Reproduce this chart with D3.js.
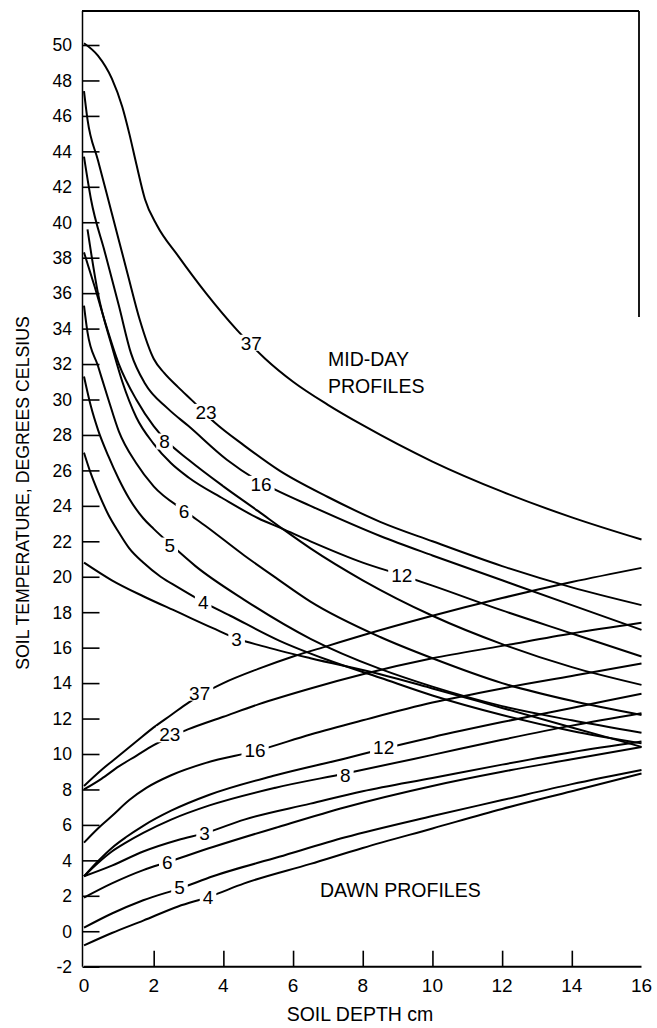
<!DOCTYPE html>
<html>
<head>
<meta charset="utf-8">
<script src="https://cdn.jsdelivr.net/npm/d3@7"></script>
<style>
  html, body { margin: 0; padding: 0; background: #fff; }
  svg { display: block; font-family: "Liberation Sans", Arial, Helvetica, sans-serif; }
</style>
</head>
<body>
<svg id="chart" width="657" height="1028"></svg>
<script>
// Soil temperature profiles: [depth cm, temperature °C]
// Mid-day profiles (temperature falls with depth)
const mid37 = [[0,50.1],[0.4,49.4],[0.8,48.1],[1.1,46.5],[1.3,45],[1.5,43.3],[1.75,41.3],[2.1,39.8],[2.7,38.1],[3.5,36],[4.4,33.9],[5.2,32.3],[6,31],[7,29.7],[8,28.55],[10,26.5],[12,24.8],[14,23.35],[16,22.1]];
const mid23 = [[0,47.4],[0.1,45.8],[0.4,43.5],[0.8,40.5],[1.25,37.1],[1.6,34.5],[2,32.3],[2.3,31.5],[2.7,30.7],[3.1,29.95],[3.75,28.7],[4.6,27.4],[5.6,26],[7,24.5],[8.5,23.1],[10,22],[12,20.6],[14,19.4],[16,18.4]];
const mid16 = [[0,43.7],[0.2,41.3],[0.6,38.3],[1,35.3],[1.35,32.6],[1.75,30.9],[2.4,29.5],[3,28.5],[4.1,26.6],[5.1,25.3],[5.5,24.9],[6.5,24],[8.5,22.3],[10,21.2],[12,19.8],[14,18.4],[16,17]];
const mid12 = [[0.1,39.6],[0.4,36],[0.8,33],[1.1,31],[1.5,29],[2,27.5],[2.5,26.4],[3,25.6],[4,24.4],[5,23.3],[5.7,22.7],[6.5,22],[8,20.8],[9.1,20.1],[10,19.5],[12,18.1],[14,16.8],[16,15.5]];
const mid8  = [[0,38.3],[0.3,36.4],[0.6,34.4],[1,32],[1.5,30],[2,28.5],[2.4,27.6],[3,26.6],[4,25.1],[5,23.7],[5.7,22.7],[6.5,21.6],[8,19.8],[10,17.8],[12,16.2],[14,14.9],[16,13.9]];
const mid6  = [[0,35.3],[0.1,33.8],[0.4,31.9],[0.7,30],[1,28.2],[1.5,26.4],[2,25.1],[2.9,23.7],[3.5,22.85],[4.6,21.2],[5.5,19.95],[6.5,18.6],[8.5,16.6],[10,15.4],[12,14],[14,13],[16,12.2]];
const mid5  = [[0,31.3],[0.2,29.6],[0.4,28.3],[0.7,26.8],[1,25.5],[1.3,24.4],[1.7,23.3],[2,22.7],[2.5,21.8],[3.2,20.6],[4.6,18.7],[6.5,16.5],[8.5,14.8],[10,13.8],[12,12.7],[14,11.9],[16,11.2]];
const mid4  = [[0,27],[0.2,25.8],[0.4,24.8],[0.7,23.5],[1,22.5],[1.3,21.6],[1.7,20.8],[2.2,20],[2.7,19.4],[3.4,18.6],[4.2,17.8],[5.6,16.4],[7,15.3],[8.5,14.3],[10,13.3],[12,12.2],[14,11.3],[16,10.6]];
const mid3  = [[0,20.8],[0.8,19.8],[1.7,18.9],[2.7,18],[3.7,17.1],[4.4,16.5],[5.1,16.1],[6.5,15.4],[8.5,14.5],[10,13.7],[12,12.6],[14,11.5],[16,10.4]];

// Dawn profiles (temperature rises with depth)
const dawn37 = [[0,8.2],[0.5,9.1],[1,9.9],[1.5,10.7],[2,11.5],[2.5,12.2],[3,12.9],[3.5,13.5],[4,14],[5,14.8],[6,15.5],[7,16.1],[8,16.7],[10,17.8],[12,18.8],[14,19.7],[16,20.5]];
const dawn23 = [[0,8],[0.5,8.6],[1,9.3],[1.5,9.9],[2,10.5],[2.5,11],[3,11.4],[4,12.1],[5,12.8],[6.5,13.7],[8,14.5],[10,15.4],[12,16.1],[14,16.8],[16,17.4]];
const dawn16 = [[0,5],[0.4,5.8],[0.8,6.5],[1.3,7.4],[1.8,8.1],[2.5,8.8],[3.5,9.5],[5,10.2],[6.5,11.1],[8,11.9],[10,12.9],[12,13.7],[14,14.4],[16,15.1]];
const dawn12 = [[0,3.1],[0.4,3.95],[0.8,4.7],[1.2,5.3],[1.7,5.95],[2.5,6.8],[3.6,7.7],[5.5,8.8],[7.5,9.75],[8.6,10.3],[10,10.95],[12,11.8],[14,12.6],[16,13.4]];
const dawn8  = [[0,3.1],[0.4,3.85],[0.8,4.5],[1.2,5],[1.7,5.55],[2.5,6.3],[3.6,7.1],[5.5,8.1],[7.5,8.9],[10,9.95],[12,10.8],[14,11.6],[16,12.3]];
const dawn3  = [[0,3.1],[0.8,3.7],[1.7,4.5],[2.7,5.15],[3.5,5.55],[4.6,6.3],[6.5,7.2],[8,7.9],[10,8.65],[12,9.4],[14,10.1],[16,10.7]];
const dawn6  = [[0,1.9],[0.8,2.7],[1.7,3.45],[2.4,3.9],[3.7,4.75],[5.6,5.9],[7.5,7],[10,8.2],[12,9],[14,9.7],[16,10.4]];
const dawn5  = [[0,0.2],[0.8,1],[1.7,1.75],[2.8,2.45],[3.7,3.1],[5.6,4.2],[7.5,5.3],[10,6.5],[12,7.4],[14,8.3],[16,9.1]];
const dawn4  = [[0,-0.8],[0.8,-0.1],[1.7,0.6],[2.7,1.4],[3.6,1.95],[4.6,2.7],[6.5,3.8],[8,4.7],[10,5.8],[12,6.9],[14,7.9],[16,8.9]];

// Profile names and where their tags sit along each curve (depth, temperature)
const profileNames = ["37","23","16","12","8","6","5","4","3",
                      "37","23","16","12","8","3","6","5","4"];
const profileData = [mid37, mid23, mid16, mid12, mid8, mid6, mid5, mid4, mid3,
                     dawn37, dawn23, dawn16, dawn12, dawn8, dawn3, dawn6, dawn5, dawn4];
const tagPositions = [[4.8,33.2],[3.5,29.3],[5.08,25.24],[9.12,20.1],[2.31,27.63],[2.87,23.68],[2.46,21.76],[3.42,18.54],[4.38,16.47],
                      [3.32,13.46],[2.46,11.11],[4.91,10.23],[8.6,10.41],[7.5,8.82],[3.46,5.56],[2.39,3.87],[2.74,2.46],[3.56,1.95]];

const yTicks = d3.range(-2, 51, 2);
const xTicks = d3.range(0, 17, 2);

const svg = d3.select("#chart");
const x = d3.scaleLinear().domain([0, 16]).range([84, 641.5]);
const y = d3.scaleLinear().domain([-2, 50]).range([966.7, 45]);

// Frame: top and partial right edge
svg.append("line").attr("x1", 82).attr("x2", 639).attr("y1", 11).attr("y2", 11)
  .attr("stroke", "#000").attr("stroke-width", 2);
svg.append("line").attr("x1", 639).attr("x2", 639).attr("y1", 11).attr("y2", 317)
  .attr("stroke", "#000").attr("stroke-width", 1.8);

// Left axis line
svg.append("line").attr("x1", x(0) - 1.5).attr("x2", x(0) - 1.5).attr("y1", 11).attr("y2", y(-2))
  .attr("stroke", "#000").attr("stroke-width", 1.5);

// Y axis: inward ticks with labels on the left
const yAxis = d3.axisRight(y).tickValues(yTicks).tickSize(17).tickFormat("");
const gy = svg.append("g").attr("transform", `translate(${x(0) - 1.5},0)`).call(yAxis);
gy.select(".domain").remove();
gy.selectAll(".tick line").attr("stroke", "#000").attr("stroke-width", 1.6);
svg.append("g").selectAll("text").data(yTicks).join("text")
  .attr("x", 72).attr("y", d => y(d)).attr("dy", "0.36em")
  .attr("text-anchor", "end").attr("font-size", 17.5).attr("fill", "#000")
  .text(d => d);

// X axis: upward ticks, labels underneath
const xAxis = d3.axisTop(x).tickValues(xTicks.filter(d => d > 0 && d < 16)).tickSize(16).tickFormat("");
const gx = svg.append("g").attr("transform", `translate(0,${y(-2)})`).call(xAxis);
gx.select(".domain").remove();
gx.selectAll(".tick line").attr("stroke", "#000").attr("stroke-width", 1.6);
svg.append("line").attr("x1", x(0)).attr("x2", x(16)).attr("y1", y(-2)).attr("y2", y(-2))
  .attr("stroke", "#000").attr("stroke-width", 2);
svg.append("g").selectAll("text").data(xTicks).join("text")
  .attr("x", d => x(d)).attr("y", y(-2) + 25)
  .attr("text-anchor", "middle").attr("font-size", 19).attr("fill", "#000")
  .text(d => d);

// Axis titles
svg.append("text").attr("x", 360).attr("y", 1021).attr("text-anchor", "middle")
  .attr("font-size", 19.5).text("SOIL DEPTH cm");
svg.append("text").attr("transform", "translate(29,493) rotate(-90)")
  .attr("text-anchor", "middle").attr("font-size", 17.7)
  .text("SOIL TEMPERATURE, DEGREES CELSIUS");

// Profile curves
const line = d3.line().x(d => x(d[0])).y(d => y(d[1])).curve(d3.curveMonotoneX);
svg.append("g").selectAll("path").data(profileData).join("path")
  .attr("d", line).attr("fill", "none").attr("stroke", "#000").attr("stroke-width", 2);

// Curve tags, each masking a short gap in its line
const tags = svg.append("g").selectAll("g").data(tagPositions).join("g")
  .attr("transform", d => `translate(${x(d[0])},${y(d[1])})`);
tags.append("rect")
  .attr("x", (d, i) => -(profileNames[i].length * 5.3 + 3)).attr("y", -8)
  .attr("width", (d, i) => profileNames[i].length * 10.6 + 6).attr("height", 16)
  .attr("fill", "#fff");
tags.append("text").attr("text-anchor", "middle").attr("dy", "0.36em")
  .attr("font-size", 19).text((d, i) => profileNames[i]);

// Group annotations
svg.append("text").attr("x", 328).attr("y", 366).attr("font-size", 19.5).text("MID-DAY");
svg.append("text").attr("x", 328).attr("y", 393).attr("font-size", 19.5).text("PROFILES");
svg.append("text").attr("x", 320).attr("y", 897).attr("font-size", 19.5).text("DAWN PROFILES");
</script>
</body>
</html>
